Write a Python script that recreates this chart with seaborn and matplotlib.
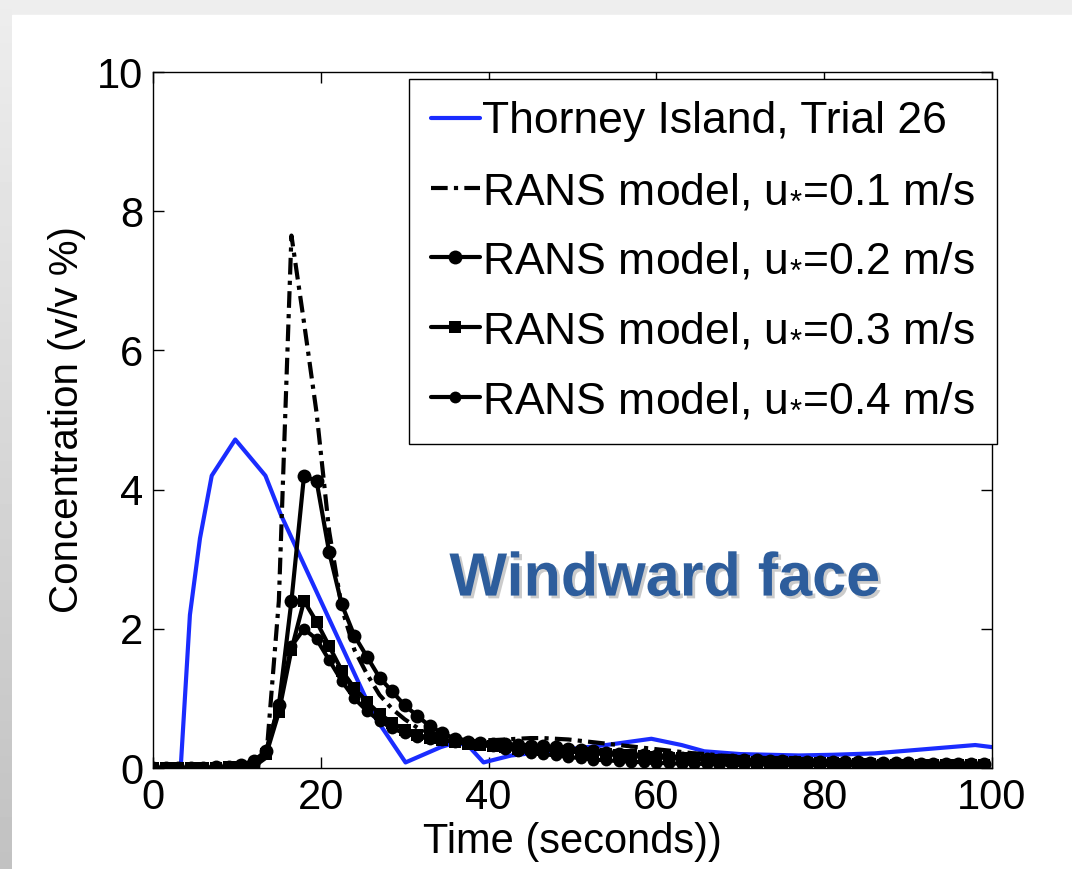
import matplotlib
matplotlib.use('Agg')
import matplotlib.pyplot as plt
import matplotlib.patheffects as pe
from matplotlib.patches import Rectangle
import numpy as np
import seaborn as sns

# Thorney Island field data
t_trial = [0, 3.3, 4.4, 5.6, 7.0, 9.8, 13.4, 15.2, 26.3, 30.1, 34.3, 35.9, 37.5,
           39.4, 42.7, 49.5, 54.0, 59.4, 63.0, 65.7, 70.0, 77.0, 81.0, 86.0, 95.0,
           98.0, 100.0]
c_trial = [0, 0, 2.2, 3.3, 4.2, 4.72, 4.2, 3.65, 0.76, 0.08, 0.3, 0.36, 0.33,
           0.08, 0.18, 0.27, 0.33, 0.42, 0.33, 0.24, 0.2, 0.18, 0.19, 0.21, 0.3,
           0.33, 0.3]

# RANS model output times (s)
t_rans = [0, 1.5, 3, 4.5, 6, 7.5, 9, 10.5, 12, 13.5, 15, 16.5, 18, 19.5, 21,
          22.5, 24, 25.5, 27, 28.5, 30, 31.5, 33, 34.5, 36, 37.5, 39, 40.5, 42,
          43.5, 45, 46.5, 48, 49.5, 51, 52.5, 54, 55.5, 57, 58.5, 60, 61.5, 63,
          64.5, 66, 67.5, 69, 70.5, 72, 73.5, 75, 76.5, 78, 79.5, 81, 82.5, 84,
          85.5, 87, 88.5, 90, 91.5, 93, 94.5, 96, 97.5, 99]

c_u01 = [0, 0, 0, 0, 0, 0, 0, 0, 0.02, 0.15, 2.4, 7.65, 6.4, 5.1, 3.4,
         2.3, 1.7, 1.35, 1.05, 0.85, 0.7, 0.58, 0.5, 0.45, 0.42, 0.4, 0.4, 0.4, 0.41,
         0.42, 0.43, 0.43, 0.42, 0.41, 0.39, 0.37, 0.35, 0.33, 0.31, 0.29, 0.27, 0.25, 0.23,
         0.21, 0.2, 0.18, 0.17, 0.16, 0.15, 0.14, 0.13, 0.12, 0.11, 0.11, 0.1, 0.1, 0.09,
         0.09, 0.08, 0.08, 0.07, 0.07, 0.07, 0.06, 0.06, 0.06, 0.05]

c_u02 = [0, 0, 0, 0, 0, 0.01, 0.02, 0.05, 0.1, 0.25, 0.9, 2.4, 4.2, 4.12, 3.1,
         2.35, 1.9, 1.6, 1.3, 1.1, 0.9, 0.75, 0.6, 0.5, 0.42, 0.38, 0.36, 0.35, 0.34,
         0.33, 0.32, 0.31, 0.3, 0.28, 0.26, 0.24, 0.22, 0.2, 0.19, 0.18, 0.17, 0.16, 0.15,
         0.14, 0.13, 0.12, 0.12, 0.11, 0.11, 0.1, 0.1, 0.09, 0.09, 0.09, 0.08, 0.08, 0.08,
         0.07, 0.07, 0.07, 0.07, 0.06, 0.06, 0.06, 0.06, 0.06, 0.06]

c_u03 = [0, 0, 0, 0, 0, 0, 0.01, 0.02, 0.03, 0.2, 0.8, 1.7, 2.4, 2.1, 1.75,
         1.4, 1.15, 0.95, 0.78, 0.65, 0.55, 0.48, 0.43, 0.4, 0.37, 0.35, 0.33, 0.31, 0.3,
         0.28, 0.27, 0.26, 0.25, 0.24, 0.22, 0.21, 0.2, 0.19, 0.18, 0.17, 0.16, 0.15, 0.14,
         0.13, 0.12, 0.11, 0.1, 0.1, 0.09, 0.09, 0.08, 0.08, 0.07, 0.07, 0.07, 0.06, 0.06,
         0.06, 0.05, 0.05, 0.05, 0.05, 0.04, 0.04, 0.04, 0.04, 0.04]

c_u04 = [0, 0, 0, 0, 0, 0, 0.01, 0.02, 0.03, 0.25, 0.9, 1.75, 2.0, 1.85, 1.55,
         1.25, 1.0, 0.82, 0.68, 0.57, 0.5, 0.45, 0.42, 0.4, 0.38, 0.36, 0.34, 0.32, 0.28,
         0.25, 0.22, 0.2, 0.18, 0.16, 0.14, 0.12, 0.11, 0.1, 0.09, 0.08, 0.07, 0.07, 0.06,
         0.06, 0.06, 0.05, 0.05, 0.05, 0.05, 0.05, 0.04, 0.04, 0.04, 0.04, 0.04, 0.04, 0.03,
         0.03, 0.03, 0.03, 0.03, 0.03, 0.03, 0.03, 0.03, 0.03, 0.03]

sns.set_style('ticks')
plt.rcParams['font.family'] = ['Liberation Sans', 'DejaVu Sans']
plt.rcParams['mathtext.fontset'] = 'custom'
plt.rcParams['mathtext.rm'] = 'Liberation Sans'
plt.rcParams['mathtext.it'] = 'Liberation Sans'
plt.rcParams['text.color'] = 'black'
plt.rcParams['axes.labelcolor'] = 'black'

fs = 30

fig = plt.figure(figsize=(10.72, 8.69), dpi=100, facecolor='#eeeeee')
# white slide area + grey gradient strip on the left
fig.patches.append(Rectangle((12 / 1072, 0), 1, (869 - 15) / 869,
                             transform=fig.transFigure, color='white', zorder=-2))
bg = fig.add_axes([0, 0, 12 / 1072, 1], zorder=-1)
bg.imshow(np.linspace(0.93, 0.76, 100).reshape(-1, 1), cmap='gray', vmin=0, vmax=1,
          aspect='auto', extent=[0, 1, 0, 1])
bg.axis('off')

ax = fig.add_axes([153 / 1072, (869 - 768) / 869, 839 / 1072, 696 / 869])
ax.set_facecolor('white')

lw = 3
sns.lineplot(x=t_trial, y=c_trial, ax=ax, color='#1a2cff', linewidth=lw,
             label='Thorney Island, Trial 26')
sns.lineplot(x=t_rans, y=c_u01, ax=ax, color='black', linewidth=lw,
             dashes=False, linestyle=(0, (4, 1.5, 1, 1.5)),
             label=r'RANS model, u$_{*}$=0.1 m/s')
sns.lineplot(x=t_rans, y=c_u02, ax=ax, color='black', linewidth=lw, marker='o',
             markersize=10, markeredgewidth=0, label=r'RANS model, u$_{*}$=0.2 m/s')
sns.lineplot(x=t_rans, y=c_u03, ax=ax, color='black', linewidth=lw, marker='s',
             markersize=9, markeredgewidth=0, label=r'RANS model, u$_{*}$=0.3 m/s')
sns.lineplot(x=t_rans, y=c_u04, ax=ax, color='black', linewidth=lw, marker='o',
             markersize=8.5, markeredgewidth=0, label=r'RANS model, u$_{*}$=0.4 m/s')

ax.set_xlim(0, 100)
ax.set_ylim(0, 10)
ax.set_xticks([0, 20, 40, 60, 80, 100])
ax.set_yticks([0, 2, 4, 6, 8, 10])
ax.tick_params(direction='in', length=8, width=1, top=True, right=True,
               labelsize=fs, pad=7, colors='black')
for s in ax.spines.values():
    s.set_color('black')
    s.set_linewidth(1)
ax.set_xlabel('Time (seconds))', fontsize=fs, labelpad=3)
ax.set_ylabel('Concentration (v/v %)', fontsize=29, labelpad=8)

leg = ax.legend(loc='upper right', bbox_to_anchor=(1.006, 0.99), borderaxespad=0,
                fontsize=32, frameon=True, fancybox=False, framealpha=1,
                edgecolor='black', handlelength=1.1, handletextpad=0.05,
                labelspacing=0.65, borderpad=0.5)
leg.get_frame().set_linewidth(1)

ax.text(61, 2.7, 'Windward face', fontsize=44, fontweight='bold', color='#2d5d9c',
        ha='center', va='center',
        path_effects=[pe.withSimplePatchShadow(offset=(2, -2), shadow_rgbFace='#999999', alpha=0.5)])

fig.savefig('out.png', dpi=100, facecolor=fig.get_facecolor())
